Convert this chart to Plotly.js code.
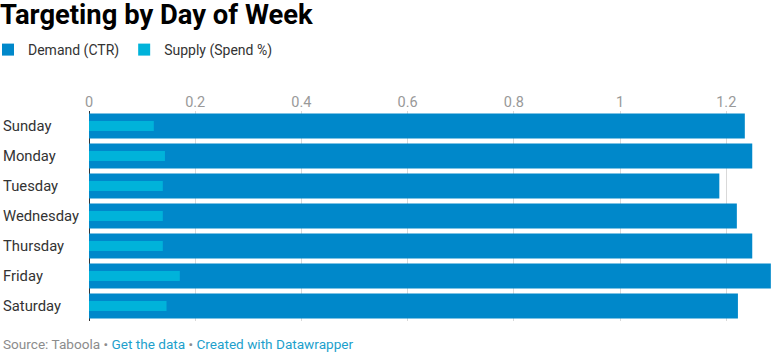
<!DOCTYPE html>
<html>
<head>
<meta charset="utf-8">
<script src="https://cdn.plot.ly/plotly-3.0.1.min.js"></script>
<style>
  html, body { margin: 0; padding: 0; background: #fff; }
  #chart { width: 783px; height: 352px; }
</style>
</head>
<body>
<div id="chart"></div>
<script>
const days = ["Sunday", "Monday", "Tuesday", "Wednesday", "Thursday", "Friday", "Saturday"];
const demandCTR = [1.235, 1.249, 1.187, 1.220, 1.249, 1.284, 1.222];
const supplySpend = [0.122, 0.143, 0.139, 0.139, 0.139, 0.171, 0.146];
const xTicks = [0, 0.2, 0.4, 0.6, 0.8, 1, 1.2];
const xTickLabels = ["0", "0.2", "0.4", "0.6", "0.8", "1", "1.2"];

const FONT = "Roboto, 'Noto Sans', sans-serif";

const traces = [
  {
    type: "bar", orientation: "h", name: "Demand (CTR)",
    x: demandCTR, y: days, width: 0.833,
    marker: { color: "#0088ca" },
    hoverinfo: "x+y"
  },
  {
    type: "bar", orientation: "h", name: "Supply (Spend %)",
    x: supplySpend, y: days, width: 0.333,
    marker: { color: "#00b3da" },
    hoverinfo: "x+y"
  }
];

const annotations = days.map(d => ({
  xref: "paper", yref: "y", x: 0, y: d, xshift: -88,
  xanchor: "left", yanchor: "middle", showarrow: false,
  text: d, font: { family: FONT, size: 14.8, color: "#333333" }
}));

annotations.push({
  xref: "paper", yref: "paper", x: 0, y: 0, xshift: -88, yshift: -23,
  xanchor: "left", yanchor: "middle", showarrow: false,
  text: "<span style='color:#8c8c8c'>Source: Taboola • </span><span style='color:#1d9fcc'>Get the data</span><span style='color:#8c8c8c'> • </span><span style='color:#1d9fcc'>Created with Datawrapper</span>",
  font: { family: FONT, size: 13.6, color: "#8c8c8c" }
});

const layout = {
  width: 783, height: 352,
  margin: { l: 89, r: 12, t: 111, b: 31, pad: 0, autoexpand: false },
  paper_bgcolor: "#ffffff", plot_bgcolor: "#ffffff",
  font: { family: FONT, size: 14, color: "#333333" },
  title: {
    text: "<b>Targeting by Day of Week</b>",
    x: 0, xref: "container", xanchor: "left",
    y: 1 - 14 / 352, yref: "container", yanchor: "middle", pad: { l: 0, t: 0, b: 0, r: 0 },
    font: { family: FONT, size: 27.4, color: "#000000" }
  },
  barmode: "overlay",
  showlegend: true,
  legend: {
    orientation: "h", x: -101 / 682, xref: "paper", xanchor: "left",
    y: 1 - 50 / 352, yref: "container", yanchor: "middle",
    font: { family: FONT, size: 14, color: "#333333" },
    itemwidth: 30, tracegroupgap: 0, traceorder: "normal",
    bgcolor: "rgba(0,0,0,0)"
  },
  xaxis: {
    side: "top", range: [0, 1.2843], fixedrange: true,
    tickvals: xTicks, ticktext: xTickLabels,
    showgrid: true, gridcolor: "#d9d9d9", gridwidth: 1,
    zeroline: true, zerolinecolor: "#333333", zerolinewidth: 1,
    showline: false, ticks: "",
    tickfont: { family: FONT, size: 14.5, color: "#999999" }
  },
  yaxis: {
    type: "category", autorange: "reversed", fixedrange: true,
    showticklabels: false, showgrid: false, zeroline: false, showline: false, ticks: ""
  },
  annotations: annotations
};

Plotly.newPlot("chart", traces, layout, { displayModeBar: false, staticPlot: true });
</script>
</body>
</html>
